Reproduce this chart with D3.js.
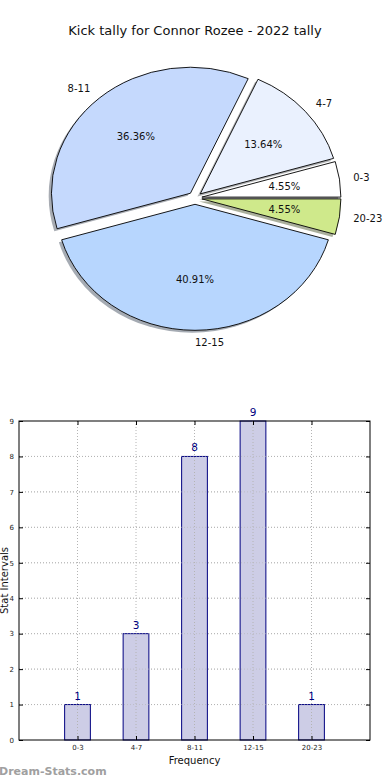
<!DOCTYPE html>
<meta charset="utf-8">
<style>
  body { margin: 0; background: #fff; }
  text { font-family: "DejaVu Sans", sans-serif; fill: #111; }
  .pctLabel, .sliceLabel { font-size: 10px; }
  .tick text { font-size: 7px; fill: #222; }
</style>
<body>
<script src="https://cdn.jsdelivr.net/npm/d3@7"></script>
<script>

  // chart data
  var categories = ["0-3", "4-7", "8-11", "12-15", "20-23"];
  var counts = [1, 3, 8, 9, 1];
  var sliceColors = ["#ffffff", "#eaf1fe", "#c5d9fd", "#b7d6fe", "#cfe98b"];
  var yTicks = [0, 1, 2, 3, 4, 5, 6, 7, 8, 9];

  var W = 390, H = 780;

  var svg = d3.select("body").append("svg")
    .attr("width", W)
    .attr("height", H);

  // title
  svg.append("text")
    .attr("x", 195)
    .attr("y", 35)
    .attr("text-anchor", "middle")
    .style("font-size", "13px")
    .text("Kick tally for Connor Rozee - 2022 tally");

  //////////////////////////////////////////////////
  // pie (elliptical, exploded, with shadow)

  var cx = 195, cy = 198, rx = 139, ry = 126, explode = 0.05;
  var sy = ry / rx;
  var total = d3.sum(counts);

  // counter-clockwise from 3 o'clock like matplotlib
  var pie = d3.pie().sort(null)
    .startAngle(Math.PI / 2)
    .endAngle(Math.PI / 2 - 2 * Math.PI);
  var slices = pie(counts);

  var arc = d3.arc().innerRadius(0).outerRadius(rx);

  function mid(d) { return (d.startAngle + d.endAngle) / 2; }

  var pieG = svg.append("g")
    .attr("transform", "translate(" + cx + "," + cy + ") scale(1," + sy + ")");

  // shadows first, below all wedges
  pieG.selectAll("path.shadow")
    .data(slices)
    .enter().append("path")
    .attr("class", "shadow")
    .attr("d", arc)
    .attr("transform", function (d) {
      var a = mid(d);
      return "translate(" + (Math.sin(a) * explode * rx - 0.02 * rx) + "," + (-Math.cos(a) * explode * rx + 0.02 * rx) + ")";
    })
    .attr("fill", function (d, i) { return d3.rgb(sliceColors[i]).darker(2.5); })
    .attr("opacity", 0.5);

  pieG.selectAll("path.slice")
    .data(slices)
    .enter().append("path")
    .attr("class", "slice")
    .attr("d", arc)
    .attr("transform", function (d) {
      var a = mid(d);
      return "translate(" + (Math.sin(a) * explode * rx) + "," + (-Math.cos(a) * explode * rx) + ")";
    })
    .attr("fill", function (d, i) { return sliceColors[i]; })
    .attr("stroke", "#000")
    .attr("stroke-width", 0.9)
    .attr("vector-effect", "non-scaling-stroke");

  // percentage labels
  svg.selectAll("text.pctLabel")
    .data(slices)
    .enter().append("text")
    .attr("class", "pctLabel")
    .attr("text-anchor", "middle")
    .attr("dy", "0.35em")
    .attr("x", function (d) { return cx + Math.sin(mid(d)) * (0.6 + explode) * rx; })
    .attr("y", function (d) { return cy - Math.cos(mid(d)) * (0.6 + explode) * ry; })
    .text(function (d) { return (d.value / total * 100).toFixed(2) + "%"; });

  // category labels
  svg.selectAll("text.sliceLabel")
    .data(slices)
    .enter().append("text")
    .attr("class", "sliceLabel")
    .attr("text-anchor", function (d) { return Math.sin(mid(d)) > -1e-9 ? "start" : "end"; })
    .attr("dy", "0.35em")
    .attr("x", function (d) { return cx + Math.sin(mid(d)) * (1.1 + explode) * rx; })
    .attr("y", function (d) { return cy - Math.cos(mid(d)) * (1.1 + explode) * ry; })
    .text(function (d, i) { return categories[i]; });

  //////////////////////////////////////////////////
  // bar chart

  var plotLeft = 19, plotRight = 370, plotTop = 421, plotBottom = 740;

  var x = d3.scaleLinear().domain([0, categories.length + 1]).range([plotLeft, plotRight]);
  var y = d3.scaleLinear().domain([0, 9]).range([plotBottom, plotTop]);
  var barW = 0.44;

  // horizontal grid
  svg.append("g")
    .selectAll("line")
    .data(yTicks.slice(1, -1))
    .enter().append("line")
    .attr("x1", plotLeft).attr("x2", plotRight)
    .attr("y1", function (d) { return y(d); })
    .attr("y2", function (d) { return y(d); })
    .attr("stroke", "#b4b4b4")
    .attr("stroke-dasharray", "1,2");

  // bars
  svg.selectAll("rect.bar")
    .data(counts)
    .enter().append("rect")
    .attr("class", "bar")
    .attr("x", function (d, i) { return x(i + 1 - barW / 2); })
    .attr("width", x(barW) - x(0))
    .attr("y", function (d) { return y(d); })
    .attr("height", function (d) { return y(0) - y(d); })
    .attr("fill", "#cdcde6")
    .attr("stroke", "#000080")
    .attr("stroke-width", 1);

  // vertical grid (drawn over the bars, as in the original)
  svg.append("g")
    .selectAll("line")
    .data(categories)
    .enter().append("line")
    .attr("x1", function (d, i) { return x(i + 1); })
    .attr("x2", function (d, i) { return x(i + 1); })
    .attr("y1", plotTop).attr("y2", plotBottom)
    .attr("stroke", "#b4b4b4")
    .attr("stroke-dasharray", "1,2");

  // horizontal grid over the bars too
  svg.append("g")
    .selectAll("line")
    .data(yTicks.slice(1, -1))
    .enter().append("line")
    .attr("x1", plotLeft).attr("x2", plotRight)
    .attr("y1", function (d) { return y(d); })
    .attr("y2", function (d) { return y(d); })
    .attr("stroke", "#b4b4b4")
    .attr("stroke-opacity", 0.6)
    .attr("stroke-dasharray", "1,2");

  // value labels
  svg.selectAll("text.val")
    .data(counts)
    .enter().append("text")
    .attr("class", "val")
    .attr("text-anchor", "middle")
    .attr("x", function (d, i) { return x(i + 1); })
    .attr("y", function (d) { return y(d) - 5; })
    .style("font-size", "10.5px")
    .style("fill", "#000080")
    .text(function (d) { return d; });

  // frame
  svg.append("rect")
    .attr("x", plotLeft).attr("y", plotTop)
    .attr("width", plotRight - plotLeft).attr("height", plotBottom - plotTop)
    .attr("fill", "none")
    .attr("stroke", "#000")
    .attr("stroke-width", 1);

  // axes
  svg.append("g")
    .attr("transform", "translate(" + plotLeft + ",0)")
    .call(d3.axisLeft(y).tickValues(yTicks).tickSize(-4).tickPadding(5))
    .call(function (g) { g.select(".domain").remove(); });

  svg.append("g")
    .attr("transform", "translate(" + plotRight + ",0)")
    .call(d3.axisRight(y).tickValues(yTicks).tickSize(-4).tickFormat(""))
    .call(function (g) { g.select(".domain").remove(); });

  svg.append("g")
    .attr("transform", "translate(0," + plotBottom + ")")
    .call(d3.axisBottom(x).tickValues(d3.range(1, categories.length + 1))
      .tickFormat(function (d) { return categories[d - 1]; })
      .tickSize(-4).tickPadding(5))
    .call(function (g) { g.select(".domain").remove(); });

  svg.append("g")
    .attr("transform", "translate(0," + plotTop + ")")
    .call(d3.axisTop(x).tickValues(d3.range(1, categories.length + 1))
      .tickSize(-4).tickFormat(""))
    .call(function (g) { g.select(".domain").remove(); });

  // axis labels
  svg.append("text")
    .attr("x", (plotLeft + plotRight) / 2)
    .attr("y", 764)
    .attr("text-anchor", "middle")
    .style("font-size", "10px")
    .text("Frequency");

  svg.append("text")
    .attr("transform", "translate(8," + (plotTop + plotBottom) / 2 + ") rotate(-90)")
    .attr("text-anchor", "middle")
    .style("font-size", "10px")
    .text("Stat Intervals");

  // watermark
  svg.append("text")
    .attr("x", -1)
    .attr("y", 775)
    .style("font-size", "11px")
    .style("font-weight", "bold")
    .style("fill", "#a0a0a0")
    .text("Dream-Stats.com");

</script>
</body>
